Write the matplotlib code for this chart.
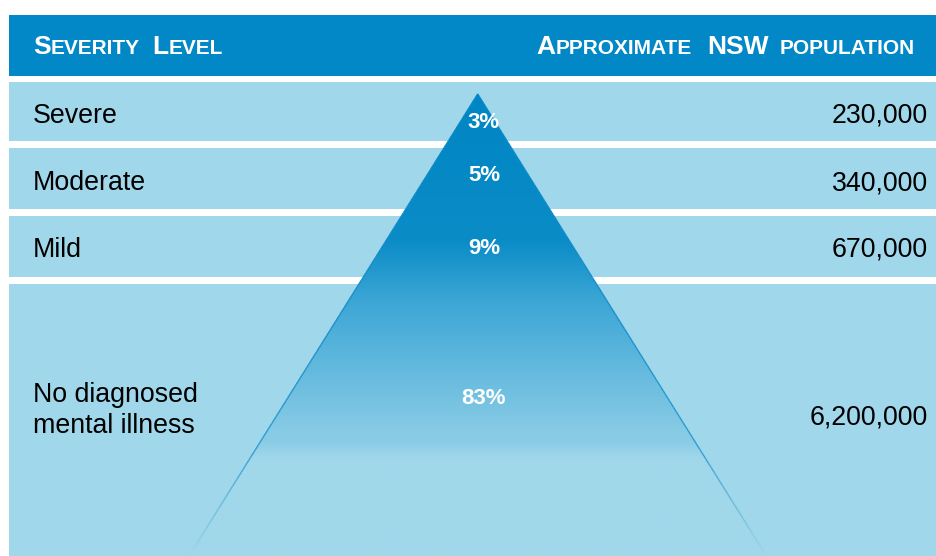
import numpy as np
import matplotlib
matplotlib.use("Agg")
import matplotlib.pyplot as plt
from matplotlib.patches import Rectangle, Polygon
from matplotlib.colors import to_rgb
from matplotlib.collections import LineCollection

# ---- data ----
levels = ["Severe", "Moderate", "Mild", "No diagnosed\nmental illness"]
shares = [3, 5, 9, 83]
population = [230000, 340000, 670000, 6200000]

# ---- layout (pixel coordinates, y grows downward) ----
W, H = 937, 556
LEFT = 9
HEADER = (15, 76)
row_top = [82, 148, 216, 284]
row_bot = [141, 209, 277, 556]
label_base = [122.7, 190, 256.7, 402.3]
value_base = [122.7, 190, 256.7, 425]
share_base = [128, 181, 253.5, 404.5]
APEX = (477.7, 94)
SLOPE = 0.625  # half-width growth per pixel of depth

HEAD_C = "#0288C6"
ROW_C = "#A0D7EA"
FONT = "Liberation Sans"

fig = plt.figure(figsize=(W / 100, H / 100), dpi=100)
ax = fig.add_axes([0, 0, 1, 1])
ax.set_xlim(0, W)
ax.set_ylim(H, 0)
ax.axis("off")
fig.patch.set_facecolor("white")

# header band and rows
ax.add_patch(Rectangle((LEFT, HEADER[0]), W - LEFT, HEADER[1] - HEADER[0],
                       facecolor=HEAD_C, edgecolor="none", zorder=1))
for t, b in zip(row_top, row_bot):
    ax.add_patch(Rectangle((LEFT, t), W - LEFT, b - t,
                           facecolor=ROW_C, edgecolor="none", zorder=1))

# pyramid with vertical gradient
base_y = H + 20
half = SLOPE * (base_y - APEX[1])
tri = Polygon([APEX, (APEX[0] - half, base_y), (APEX[0] + half, base_y)],
              closed=True, facecolor="none", edgecolor="none",
              transform=ax.transData)
ax.add_patch(tri)

stops = [(94, "#0086C4"), (240, "#0A8CC7"), (300, "#3BA6D5"),
         (367, "#62B9DE"), (433, "#88CBE5"), (442, "#8ACCE6"),
         (458, "#A0D7EA"), (base_y, "#A0D7EA")]
ys = np.linspace(APEX[1], base_y, 600)
sy = [s[0] for s in stops]
cols = np.array([to_rgb(s[1]) for s in stops])
grad = np.stack([np.interp(ys, sy, cols[:, k]) for k in range(3)], axis=-1)
img = np.repeat(grad[:, None, :], 2, axis=1)
im = ax.imshow(img, extent=(APEX[0] - half, APEX[0] + half, base_y, APEX[1]),
               origin="upper", aspect="auto", zorder=2, interpolation="bilinear")
im.set_clip_path(tri)

# outline of the pyramid, fading out toward the base
estops = [(94, "#0288C6"), (300, "#168FCA"), (445, "#2A9BD2"), (H, "#A0D7EA")]
ey = [s[0] for s in estops]
ec = np.array([to_rgb(s[1]) for s in estops])
yy = np.linspace(APEX[1], H, 200)
for sign in (-1, 1):
    xx = APEX[0] + sign * SLOPE * (yy - APEX[1])
    pts = np.column_stack([xx, yy])
    segs = np.stack([pts[:-1], pts[1:]], axis=1)
    ym = 0.5 * (yy[:-1] + yy[1:])
    c = np.stack([np.interp(ym, ey, ec[:, k]) for k in range(3)], axis=-1)
    ax.add_collection(LineCollection(segs, colors=c, linewidths=1.0, zorder=3))

# small-caps header text built from runs
renderer = fig.canvas.get_renderer()


def small_caps(runs, x, y, align="left"):
    """runs: list of (text, fontsize, gap_after)."""
    items = []
    total = 0
    for txt, size, gap in runs:
        t = ax.text(0, y, txt, fontsize=size, fontweight="bold", color="white",
                    family=FONT, ha="left", va="baseline", zorder=5)
        w = t.get_window_extent(renderer).width
        items.append((t, w, gap))
        total += w + gap
    total -= items[-1][2]
    cx = x if align == "left" else x - total
    for t, w, gap in items:
        t.set_x(cx)
        cx += w + gap


BIG, SMALL = 19, 15
small_caps([("S", BIG, 0.5), ("EVERITY", SMALL, 12), ("L", BIG, 0.5),
            ("EVEL", SMALL, 0)], 33, 54)
small_caps([("A", BIG, 0.5), ("PPROXIMATE", SMALL, 15), ("NSW", BIG, 11),
            ("POPULATION", SMALL, 0)], 915, 54, align="right")

# row labels, values and shares
for i, lab in enumerate(levels):
    lines = lab.split("\n")
    for j, ln in enumerate(lines):
        ax.text(33, label_base[i] + 31 * j, ln, fontsize=19.3, family=FONT,
                color="black", ha="left", va="baseline", zorder=5)
    ax.text(928, value_base[i], f"{population[i]:,}", fontsize=19.3,
            family=FONT, color="black", ha="right", va="baseline", zorder=5)
    ax.text(484, share_base[i], f"{shares[i]}%", fontsize=16, family=FONT,
            fontweight="bold", color="white", ha="center", va="baseline",
            zorder=5)

fig.savefig("out.png", dpi=100, facecolor="white")
